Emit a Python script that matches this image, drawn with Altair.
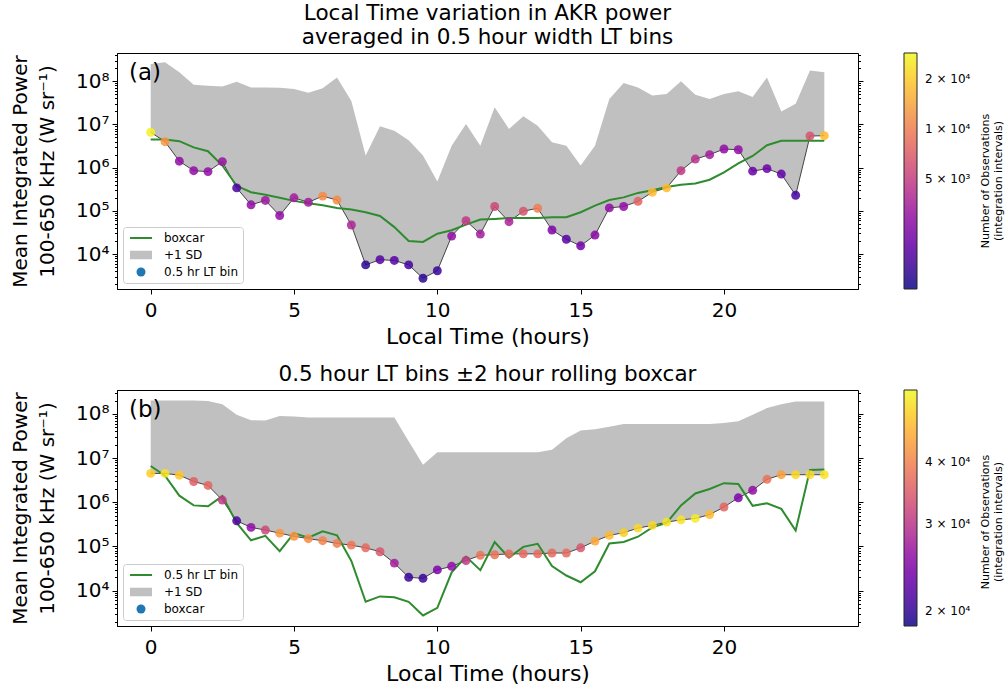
import altair as alt
import pandas as pd

# Local time bins (hours), 0.5 hour wide
lt_hours = [i * 0.5 for i in range(48)]

# Mean integrated AKR power in each 0.5 hr LT bin (W sr^-1)
bin_power = [6.6e6, 4.0e6, 1.41e6, 8.5e5, 8.1e5, 1.38e6, 3.4e5, 1.38e5, 1.74e5, 7.8e4,
             2.0e5, 1.58e5, 2.19e5, 1.78e5, 4.7e4, 5.6e3, 7.4e3, 7.1e3, 5.6e3, 2.75e3,
             4.1e3, 2.6e4, 5.9e4, 2.9e4, 1.26e5, 5.6e4, 9.8e4, 1.15e5, 3.6e4, 2.2e4,
             1.55e4, 2.75e4, 1.17e5, 1.26e5, 1.66e5, 2.7e5, 3.4e5, 8.5e5, 1.58e6, 2.0e6,
             2.7e6, 2.6e6, 8.3e5, 9.5e5, 7.1e5, 2.3e5, 5.4e6, 5.5e6]

# +/-2 hour rolling boxcar of the binned power (W sr^-1)
boxcar_power = [4.5e6, 4.5e6, 4.1e6, 2.95e6, 2.4e6, 1.12e6, 3.8e5, 2.7e5, 2.35e5, 2.0e5,
                1.7e5, 1.5e5, 1.35e5, 1.17e5, 1.07e5, 9.3e4, 7.6e4, 4.2e4, 2.0e4, 1.9e4,
                2.95e4, 3.55e4, 4.8e4, 6.3e4, 6.5e4, 6.8e4, 6.8e4, 6.8e4, 7.1e4, 7.1e4,
                9.3e4, 1.32e5, 1.78e5, 2.05e5, 2.6e5, 3.0e5, 3.55e5, 4.0e5, 4.3e5, 5.25e5,
                7.8e5, 1.26e6, 1.86e6, 3.3e6, 4.2e6, 4.2e6, 4.2e6, 4.2e6]

# Mean + 1 standard deviation, binned
upper_bin = [2.5e8, 2.75e8, 1.62e8, 8.3e7, 7.9e7, 7.6e7, 9.8e7, 7.2e7, 7.2e7, 7.1e7,
             6.6e7, 5.4e7, 6.9e7, 1.23e8, 3.5e7, 1.9e6, 9.1e6, 7.2e6, 4.3e6, 1.9e6,
             4.8e5, 3.2e6, 1.02e7, 3.2e6, 2.5e7, 7.9e6, 1.55e7, 9.3e6, 3.9e6, 3.2e6,
             1.12e6, 3.2e6, 3.9e7, 9.1e7, 7.2e7, 4.7e7, 5.1e7, 1.0e8, 4.9e7, 3.9e7,
             5.1e7, 5.9e7, 4.3e7, 1.23e8, 2.0e7, 3.0e7, 1.78e8, 1.62e8]

# Mean + 1 standard deviation, boxcar
upper_boxcar = [2.0e8, 2.0e8, 2.0e8, 2.0e8, 1.95e8, 1.66e8, 9.5e7, 7.2e7, 7.1e7, 8.9e7,
                8.7e7, 8.3e7, 8.3e7, 8.3e7, 8.3e7, 8.3e7, 8.3e7, 8.3e7, 2.4e7, 7.1e6,
                1.35e7, 1.35e7, 1.35e7, 1.35e7, 1.35e7, 1.35e7, 1.35e7, 1.35e7, 1.55e7, 2.8e7,
                4.2e7, 4.5e7, 5.1e7, 5.9e7, 5.9e7, 5.9e7, 5.9e7, 5.9e7, 5.9e7, 5.9e7,
                6.2e7, 6.8e7, 9.5e7, 1.35e8, 1.66e8, 1.9e8, 1.9e8, 1.9e8]

# Number of observations (integration intervals) per bin
obs_bin = [26900, 12700, 2900, 2900, 2900, 3100, 1610, 2900, 3200, 2900,
           3420, 3400, 11500, 11500, 3770, 1280, 1780, 1780, 1510, 1280,
           1410, 2900, 4740, 3420, 5590, 3770, 6580, 10070, 2460, 1780,
           2230, 2720, 2900, 2900, 7750, 17600, 17600, 4740, 4300, 3420,
           2900, 2900, 2090, 2090, 1960, 1510, 6580, 17600]

obs_boxcar = [50000, 52800, 49000, 35300, 36100, 30600, 21300, 25900, 32300, 42500,
              42500, 41100, 40200, 39300, 38400, 36800, 34100, 27400, 20400, 20400,
              24500, 25900, 30600, 38000, 38000, 36800, 36800, 36800, 36800, 36800,
              34100, 44900, 47400, 50000, 51200, 51200, 52800, 52800, 54000, 47400,
              36100, 24500, 25900, 38000, 43900, 51200, 51800, 52800]

GREEN = "#2e8b2e"
GREY_FILL = "#c0c0c0"
DOT_BLUE = "#1f77b4"
FONT = "DejaVu Sans"
W, H = 741, 236

# legend glyphs: a short thick line, a wide patch, a dot
LINE_PATH = "M-2.45,-0.22L2.45,-0.22L2.45,0.22L-2.45,0.22Z"
RECT_PATH = "M-2.45,-0.95L2.45,-0.95L2.45,0.95L-2.45,0.95Z"

SUP = "['⁰','¹','²','³','⁴','⁵','⁶','⁷','⁸','⁹']"
LOG10 = "(log(datum.value)/LN10)"
IS_MAJOR = f"abs({LOG10} - round({LOG10})) < 0.001"
y_label_expr = f"{IS_MAJOR} ? '10' + {SUP}[round({LOG10})] : ''"
cbar_label_expr = (f"format(datum.value / pow(10, floor({LOG10} + 1e-9)), 'd') + ' × 10' + "
                   f"{SUP}[floor({LOG10} + 1e-9)]")

y_ticks = [m * 10 ** e for e in range(3, 9) for m in range(1, 10)]
tick_size = {"condition": {"test": IS_MAJOR, "value": 5}, "value": 2.5}

x_scale = alt.Scale(domain=[-1.175, 24.675], nice=False, zero=False)
x_axis = alt.Axis(values=[0, 5, 10, 15, 20], title="Local Time (hours)", labelFontSize=20,
                  titleFontSize=22, tickSize=5, labelPadding=6, titlePadding=6, labelFlush=False)

CBAR_TITLE = ["Number of Observations", "(integration intervals)"]


def panel(df, lower, upper, dots, line, count, y_dom, c_dom, c_vals, kinds, line_name,
          tag, title, cbar_title_y):
    y_scale = alt.Scale(type="log", domain=y_dom, nice=False)
    x = alt.X("lt:Q", scale=x_scale, axis=x_axis)
    in_dom = [v for v in y_ticks if y_dom[0] <= v <= y_dom[1]]
    y_left = alt.Axis(values=in_dom, labelExpr=y_label_expr, tickSize=tick_size,
                      labelFontSize=20, labelOverlap=False, labelPadding=3,
                      title=["Mean Integrated Power", "100-650 kHz (W sr⁻¹)"],
                      titleFontSize=20, titlePadding=18, titleLineHeight=27)
    y_right = alt.Axis(orient="right", values=in_dom, labels=False, title=None,
                       domain=False, tickSize=tick_size)

    band = alt.Chart(df).mark_area(color=GREY_FILL, opacity=1).encode(
        x=x, y=alt.Y(f"{lower}:Q", scale=y_scale, axis=y_left), y2=f"{upper}:Q")
    joiner = alt.Chart(df).mark_line(color="#444444", strokeWidth=1).encode(
        x=x, y=alt.Y(f"{dots}:Q", scale=y_scale, axis=y_right))
    smooth = alt.Chart(df).mark_line(color=GREEN, strokeWidth=2).encode(
        x=x, y=alt.Y(f"{line}:Q", scale=y_scale, axis=None))

    color_legend = alt.Legend(title=None, direction="vertical", orient="right", offset=40,
                              gradientLength=H, gradientThickness=13,
                              gradientStrokeColor="black", gradientStrokeWidth=1,
                              values=c_vals, labelExpr=cbar_label_expr, labelFontSize=12,
                              labelFont=FONT, labelOffset=8, labelOverlap=False)
    points = alt.Chart(df).mark_point(filled=True, size=80, opacity=0.85).encode(
        x=x, y=alt.Y(f"{dots}:Q", scale=y_scale, axis=None),
        color=alt.Color(f"{count}:Q", scale=alt.Scale(type="log", scheme="plasma",
                                                      domain=c_dom, nice=False),
                        legend=color_legend))

    # invisible carrier of the series key (line / band / dots)
    key_legend = alt.Legend(title=None, orient="bottom-left", offset=6, direction="vertical",
                            fillColor="white", strokeColor="#cccccc", cornerRadius=3,
                            padding=5, labelFontSize=12, labelFont=FONT, symbolSize=81,
                            symbolOffset=7, labelOffset=17, rowPadding=5, symbolOpacity=1,
                            symbolStrokeWidth=0)
    key_colors = [GREEN if k == line_name else GREY_FILL if k == "+1 SD" else DOT_BLUE
                  for k in kinds]
    key_shapes = [LINE_PATH if k == line_name else RECT_PATH if k == "+1 SD" else "circle"
                  for k in kinds]
    key = alt.Chart(df).mark_point(filled=True, opacity=0).encode(
        x=x, y=alt.Y(f"{dots}:Q", scale=y_scale, axis=None),
        fill=alt.Fill("kind:N", scale=alt.Scale(domain=kinds, range=key_colors),
                      legend=key_legend),
        shape=alt.Shape("kind:N", scale=alt.Scale(domain=kinds, range=key_shapes),
                        legend=key_legend))

    label = alt.Chart(pd.DataFrame({"tag": [tag]})).mark_text(
        fontSize=23, font=FONT, align="left", baseline="top", color="black").encode(
        text="tag:N", x=alt.value(12), y=alt.value(9))
    cbar_title = alt.Chart(pd.DataFrame({"t": [0]})).mark_text(
        text=CBAR_TITLE, fontSize=11, font=FONT, angle=270, align="center",
        baseline="middle", lineHeight=13, color="black").encode(
        x=alt.value(W + 128), y=alt.value(cbar_title_y))
    return alt.layer(band, joiner, smooth, points, key, label, cbar_title).resolve_axis(
        y="independent").properties(
        width=W, height=H,
        title=alt.Title(title, fontSize=21.5, font=FONT, fontWeight="normal", anchor="middle",
                        color="black", offset=-3))


df_a = pd.DataFrame({"lt": lt_hours, "power": bin_power, "boxcar": boxcar_power,
                     "upper": upper_bin, "nobs": obs_bin, "kind": "0.5 hr LT bin"})
df_b = pd.DataFrame({"lt": lt_hours, "power": bin_power, "boxcar": boxcar_power,
                     "upper": upper_boxcar, "nobs": obs_boxcar, "kind": "boxcar"})

top = panel(df_a, "power", "upper", "power", "boxcar", "nobs",
            [10 ** 3.19, 10 ** 8.655], [1090, 28700], [5000, 10000, 20000],
            ["boxcar", "+1 SD", "0.5 hr LT bin"], "boxcar", "(a)",
            ["Local Time variation in AKR power", "averaged in 0.5 hour width LT bins"], 128)
bottom = panel(df_b, "boxcar", "upper", "boxcar", "power", "nobs",
               [10 ** 3.20, 10 ** 8.54], [18660, 55800], [20000, 30000, 40000],
               ["0.5 hr LT bin", "+1 SD", "boxcar"], "0.5 hr LT bin", "(b)",
               "0.5 hour LT bins ±2 hour rolling boxcar", 132)

chart = alt.vconcat(top, bottom, spacing=15).resolve_scale(
    color="independent", fill="independent", shape="independent").resolve_legend(
    color="independent", fill="independent", shape="independent").properties(
    padding={"left": 10, "top": 2, "right": 0, "bottom": 0}
).configure_view(stroke="black", strokeWidth=1).configure_axis(
    labelFont=FONT, titleFont=FONT, labelColor="black", titleColor="black",
    tickColor="black", domainColor="black", grid=False, titleFontWeight="normal"
).configure_legend(labelColor="black", titleColor="black")

chart.save("out.html", embed_options={"renderer": "svg", "actions": False})
